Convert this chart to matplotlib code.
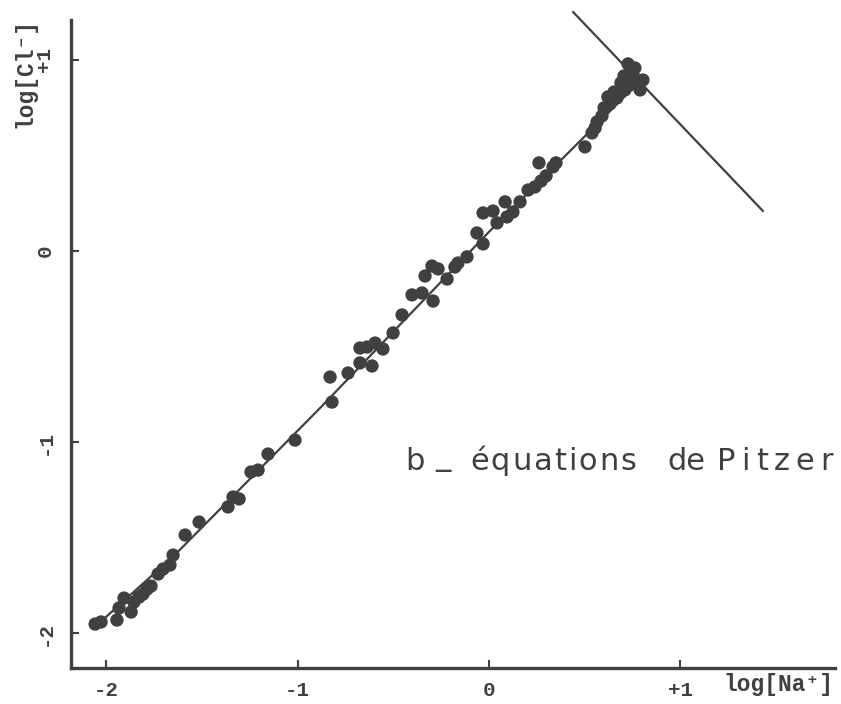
import matplotlib
matplotlib.use("Agg")
import matplotlib.pyplot as plt

# ---- data ----
log_na = [-2.057, -2.026, -1.943, -1.932, -1.906, -1.869, -1.854, -1.828, -1.807, -1.786,
          -1.765, -1.728, -1.702, -1.666, -1.650, -1.587, -1.514, -1.363, -1.337, -1.305,
          -1.243, -1.206, -1.154, -1.013, -0.830, -0.820, -0.736, -0.674, -0.611, -0.674,
          -0.637, -0.595, -0.554, -0.501, -0.454, -0.402, -0.350, -0.292, -0.334, -0.298,
          -0.266, -0.219, -0.178, -0.162, -0.115, -0.063, -0.031, -0.031, 0.021, 0.084,
          0.042, 0.094, 0.125, 0.162, 0.204, 0.240, 0.272, 0.261, 0.298, 0.334,
          0.350, 0.501, 0.538, 0.564, 0.590, 0.601, 0.632, 0.621, 0.668, 0.689,
          0.726, 0.705, 0.752, 0.773, 0.804, 0.710, 0.789, 0.736, 0.762, 0.653, 0.554]
log_cl = [-1.953, -1.942, -1.932, -1.869, -1.817, -1.890, -1.838, -1.812, -1.796, -1.770,
          -1.754, -1.691, -1.665, -1.644, -1.592, -1.487, -1.419, -1.340, -1.288, -1.298,
          -1.157, -1.147, -1.063, -0.990, -0.660, -0.791, -0.639, -0.586, -0.602, -0.508,
          -0.503, -0.482, -0.513, -0.429, -0.335, -0.230, -0.220, -0.262, -0.131, -0.079,
          -0.094, -0.147, -0.084, -0.063, -0.031, 0.094, 0.037, 0.199, 0.209, 0.257,
          0.147, 0.178, 0.204, 0.257, 0.319, 0.335, 0.366, 0.461, 0.393, 0.440,
          0.461, 0.545, 0.618, 0.675, 0.707, 0.749, 0.770, 0.806, 0.801, 0.880,
          0.979, 0.916, 0.921, 0.885, 0.895, 0.843, 0.843, 0.869, 0.958, 0.832, 0.644]

# Pitzer equation curve
curve_x = [-2.06, -1.64, -0.88, 0.00, 0.53, 0.72]
curve_y = [-1.97, -1.59, -0.82, 0.10, 0.63, 0.82]

# second straight line (upper right)
line2_x = [0.44, 1.43]
line2_y = [1.25, 0.21]

x_ticks = [-2, -1, 0, 1]
x_ticklabels = ["-2", "-1", "0", "+1"]
y_ticks = [-2, -1, 0, 1]
y_ticklabels = ["-2", "-1", "0", "+1"]

annotation_words = ["b", "_", "\u00e9quations", "de", "Pitzer"]

# ---- figure ----
W, H = 841, 704
INK = "#404040"
fig = plt.figure(figsize=(W / 100, H / 100), dpi=100)
ax = fig.add_axes([71 / W, 1 - 668 / H, (835 - 71) / W, (668 - 20) / H])

ax.plot(curve_x, curve_y, color=INK, lw=1.6, zorder=2)
ax.plot(line2_x, line2_y, color=INK, lw=1.6, zorder=2, clip_on=False)
ax.scatter(log_na, log_cl, s=92, color=INK, edgecolors="none", zorder=3)

ax.set_xlim(-2.183, 1.807)
ax.set_ylim(-2.183, 1.209)

for s in ["top", "right"]:
    ax.spines[s].set_visible(False)
for s in ["left", "bottom"]:
    ax.spines[s].set_color(INK)
    ax.spines[s].set_linewidth(2.4)

MONO = ["Liberation Mono", "DejaVu Sans Mono"]
tick_font = dict(family=MONO, weight="bold", size=15)
ax.set_xticks(x_ticks)
ax.set_xticklabels(x_ticklabels, **tick_font, color=INK)
ax.set_yticks(y_ticks)
ax.set_yticklabels(y_ticklabels, **tick_font, color=INK, rotation=90, va="center")
ax.tick_params(axis="both", direction="in", length=6, width=1.5, color=INK)
ax.tick_params(axis="x", pad=9)
ax.tick_params(axis="y", pad=12)

lab_font = dict(family=MONO, weight="bold", size=16.5, color=INK)
fig.text(778 / W, 1 - 684 / H, "log[Na\u207a]", ha="center", va="center", **lab_font)
fig.text(25 / W, 1 - 73 / H, "log[Cl\u207b]", ha="center", va="center", rotation=90, **lab_font)

# annotation: tracked words fitted to their spans in the reference
renderer = fig.canvas.get_renderer()
word_spans = [(405, None), (435, None), (470, 636), (667, None), (717, 833)]
baseline = 470
ann_font = dict(family=["DejaVu Sans"], size=22, color=INK)
for word, (left, right) in zip(annotation_words, word_spans):
    y = baseline - (5 if word == "_" else 0)
    if right is None:
        fig.text(left / W, 1 - y / H, word, ha="left", va="baseline", **ann_font)
        continue
    widths = []
    for ch in word:
        t = fig.text(0, 0, ch, ha="left", va="baseline", **ann_font)
        widths.append(t.get_window_extent(renderer).width)
        t.remove()
    gap = max((right - left - sum(widths)) / (len(word) - 1), 1.0)
    x = left
    for ch, w in zip(word, widths):
        fig.text(x / W, 1 - y / H, ch, ha="left", va="baseline", **ann_font)
        x += w + gap

fig.savefig("out.png", dpi=100, facecolor="white")
